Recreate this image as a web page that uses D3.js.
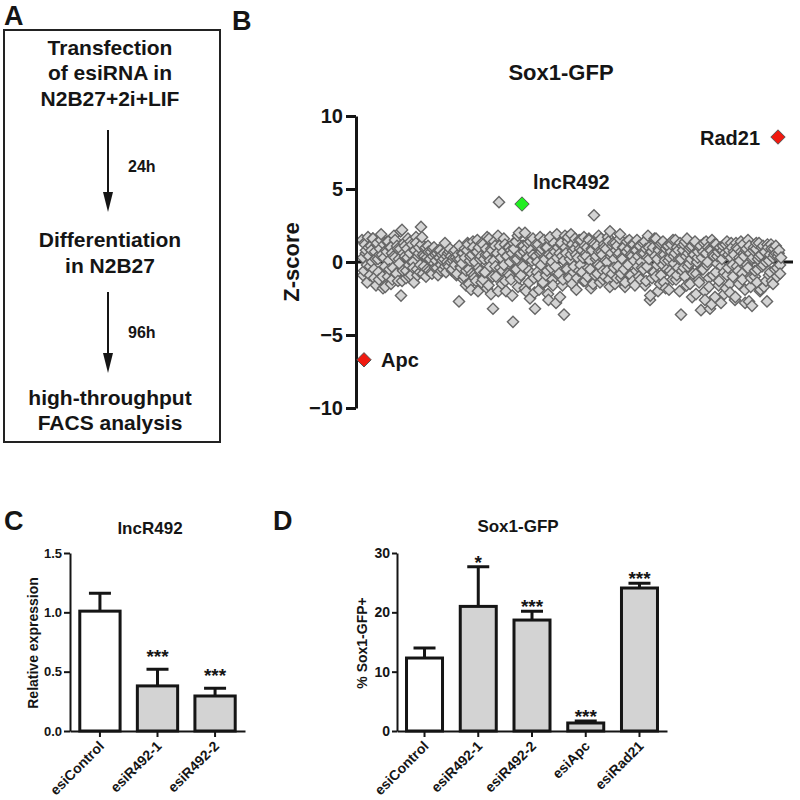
<!DOCTYPE html>
<html><head><meta charset="utf-8">
<script src="https://cdn.jsdelivr.net/npm/d3@7"></script>
<style>body{margin:0;background:#fff} svg{display:block;font-family:"Liberation Sans",Arial,sans-serif}</style>
</head><body>
<svg id="fig" width="800" height="800"></svg>
<script>
// ---------- DATA ----------
const flowSteps = [["Transfection","of esiRNA in","N2B27+2i+LIF"],["Differentiation","in N2B27"],["high-throughput","FACS analysis"]];
const flowTimes = ["24h","96h"];

const screenTitle = "Sox1-GFP";
const zTicks = [-10,-5,0,5,10];
// Z-scores of the screened esiRNAs, screen plate set 1
const screenZ = [
 1.5,0.3,-0.6,1.2,0.8,-0.2,1.7,0.4,-0.9,1.1,0.0,1.6,-0.5,0.7,-1.6,1.3,0.2,-1.2,0.9,1.5,
 0.5,-1.8,1.2,-0.3,0.8,1.4,-1.0,0.1,1.0,-1.5,0.6,-0.4,1.8,0.3,-0.8,1.1,-1.3,0.2,0.9,-2.3,
 2.2,-0.6,1.3,0.4,-1.1,0.9,1.6,-0.2,0.6,-0.9,1.2,0.0,-1.4,0.8,1.3,-0.5,0.4,1.0,-0.7,2.4,
 1.7,0.5,-0.3,0.9,-1.0,0.3,1.1,-0.6,0.2,0.7,-0.8,0.4,1.0,-0.4,0.1,0.6,-0.9,0.3,0.8,-0.2,
 0.5,-0.5,0.2,1.3,-0.7,0.0,0.6,-0.3,0.9,0.4,-0.6,0.1,0.7,-0.2,0.3,-0.8,0.5,-2.7,0.2,-0.4,
 -0.1,0.6,-1.0,0.3,-1.6,0.8,1.2,-0.5,0.1,-1.9,0.5,1.4,-0.9,0.0,-1.3,0.7,-2.0,1.0,-0.6,0.4,
 1.3,-1.2,0.2,-0.7,0.9,-1.8,0.5,1.6,-0.3,-2.2,0.8,-3.2,0.1,1.1,-1.0,0.6,1.8,4.1,-0.4,0.3,
 -1.5,0.7,-0.2,1.2,-2.0,0.4,-0.8,1.0,0.0,-1.2,0.6,-4.1,0.9,-0.5,1.4,0.2,-1.7,2.0,0.5,-0.9,
 1.1,-0.3,0.7,2.0,-2.0,0.3,1.3,-0.6,-2.5,0.8,0.1,1.6,-1.1,-3.2,0.4,-0.7,1.2,-1.9,0.6,-0.2,
 0.9,-1.4,1.5,0.2,-0.9,1.0,-2.2,0.5,1.7,-0.4,0.0,-1.6,1.3,0.7,-2.8,0.3,1.0,-0.8,-2.4,1.2,
 0.4,-1.2,-3.6,1.8,0.6,-0.5,1.4,-1.0,0.2,1.9,-1.5,0.8,-0.3,1.6,0.5,-1.1,1.2,-0.6,0.9,1.5,
 -0.7,0.3,1.7,-1.3,0.6,1.0,-0.4,1.5,0.1,-1.8,0.8,1.3,3.2,-0.9,0.4,1.1,-0.2,0.7,-1.4,1.6,
 0.5,-0.6,1.2,-1.0,0.9,0.0,1.7,-1.2,2.1,0.4,-0.8,1.3,0.2,-1.5,0.8,1.1,-0.3,0.6,1.9,-1.1,
 0.3,1.0,-0.5,-1.7,0.7,1.4,-0.2,0.9,-0.9,0.5,1.2,-1.3,0.1,0.8,-0.6,1.5,0.4,-1.0,1.1,0.0,
 -0.4,1.3,0.6,-1.6,0.9,-0.3,1.8,0.2,-2.6,0.7,-1.1,1.0,-0.7,0.4,1.6,-0.2,-2.0,0.8,1.2,-0.9,
 0.5,1.4,-1.4,0.1,0.9,-0.5,1.1,-1.9,0.3,0.7,-0.8,1.5,-0.1,0.6,-1.2,1.0,-0.4,0.2,1.3,-3.6,
 -0.6,0.8,1.2,-1.0,0.4,1.6,-0.3,0.9,-1.5,0.2,1.1,-0.8,0.5,1.4,-2.2,0.0,0.7,-1.2,1.0,-3.3,
 0.3,-0.5,1.3,-2.6,0.6,-0.2,1.0,-1.7,-3.2,0.8,1.5,-0.9,0.4,-2.4,1.2,-0.1,0.7,-1.3,0.9,-2.8,
 0.2,1.1,-0.7,0.6,-1.8,1.4,-0.4,0.8,-2.1,0.3,1.0,-1.0,0.5,-2.6,1.3,-0.3,0.9,-1.5,0.1,0.7,
 -0.8,1.2,0.4,-1.9,0.8,-0.2,1.5,-2.7,0.6,-1.1,-3.0,0.3,1.0,-0.6,0.9,-1.4,0.2,1.3,-2.0,0.5,
 -0.3,1.1,-1.7,0.7,0.0,-2.7,1.0,-0.9,0.5,1.2,-1.3,0.3,0.9,-0.5,0.6,-1.0,0.4,0.8,-0.2,0.3
];
// Z-scores, screen plate set 2
const screenZ2 = [
 -0.9,1.3,0.6,-1.4,1.0,-0.3,0.8,1.6,-1.1,0.2,1.2,-0.7,0.5,1.9,-1.0,0.3,-1.7,0.7,1.4,-0.5,
 1.0,-1.2,0.4,1.5,-0.8,0.9,-0.1,2.1,-1.3,0.6,1.1,-0.6,0.3,-1.0,1.4,0.0,-0.4,0.8,1.7,-0.9,
 0.6,-0.2,1.2,-0.8,0.4,1.0,-0.5,0.7,0.2,-0.7,0.9,-0.1,0.5,-0.4,0.8,0.3,-0.6,0.1,0.6,-0.3,
 0.4,-0.2,0.7,0.0,-0.5,0.3,0.8,-0.9,0.2,1.1,-0.3,0.6,-1.2,0.9,-0.6,1.3,-1.5,0.4,-0.8,1.0,
 -1.1,0.7,1.5,-0.4,0.2,-1.4,1.2,-0.7,0.5,1.7,-1.6,0.1,0.9,-1.0,1.4,-0.3,0.6,-2.0,1.1,0.3,
 -0.6,1.6,-1.3,0.4,1.0,-0.9,0.8,-2.3,1.3,0.2,-0.5,1.8,-1.1,0.6,-0.2,1.1,-1.8,0.9,0.3,-1.4,
 1.4,-0.8,0.5,-2.1,1.2,0.0,-1.0,1.7,0.7,-1.5,0.3,1.0,-0.6,-2.6,1.5,0.4,-1.2,0.8,-0.3,1.9,
 -0.9,0.6,1.3,-1.6,0.1,1.0,-0.4,1.7,-1.1,0.5,1.2,-0.7,0.9,-1.9,0.3,1.5,-0.2,0.8,-1.3,1.1,
 0.4,-1.0,1.6,-0.5,0.9,-1.5,1.2,0.2,-0.8,1.8,-0.3,0.7,-1.2,1.0,0.1,-0.6,1.4,-1.7,0.6,1.1,
 -0.4,1.3,-1.1,0.5,1.6,-0.8,0.2,1.0,-1.4,0.7,-0.1,1.5,-0.9,0.4,1.2,-1.6,0.8,-0.3,1.1,-1.2,
 0.6,-0.5,1.4,-1.3,0.3,1.0,-2.3,0.7,-0.7,1.6,-1.0,0.2,0.9,-1.5,1.3,-0.2,0.5,-1.8,1.1,0.1,
 -0.6,1.2,-1.2,0.4,1.5,-0.9,0.8,-2.0,0.2,1.1,-0.4,1.4,-1.6,0.6,-0.1,1.0,-2.4,0.5,1.3,-0.8,
 0.3,-1.4,1.1,-0.5,0.7,-2.0,1.4,0.0,-1.1,0.9,-2.9,0.5,1.2,-0.7,0.4,-1.6,1.0,-0.3,0.8,-2.2,
 1.2,-0.9,0.5,-1.5,1.3,-0.2,0.7,-2.4,1.0,-0.6,0.3,1.4,-1.2,0.6,-2.8,0.9,-0.4,1.1,-1.7,0.2,
 0.8,-1.0,1.3,-0.5,0.4,-1.9,1.0,-0.2,0.7,-1.3,1.2,0.1,-0.7,0.9,-1.5,0.5,1.1,-0.4,0.6,-0.8
];
const hitGenes = ["Apc","lncR492","Rad21"];
const hitRanks = [2,160,416];   // position on the screen-order axis of set 1
const hitZ = [-6.7,3.97,8.56];
const hitColors = ["#f01a10","#22ee22","#f01a10"];

const exprTitle = "lncR492";
const exprCats = ["esiControl","esiR492-1","esiR492-2"];
const exprMean = [1.01,0.38,0.295];
const exprUpper = [1.16,0.52,0.36];
const exprSig = ["","***","***"];
const exprTicks = [0,0.5,1.0,1.5];

const gfpTitle = "Sox1-GFP";
const gfpCats = ["esiControl","esiR492-1","esiR492-2","esiApc","esiRad21"];
const gfpMean = [12.3,21.0,18.7,1.35,24.1];
const gfpUpper = [14.0,27.7,20.2,1.7,24.9];
const gfpSig = ["","*","***","***","***"];
const gfpTicks = [0,10,20,30];

// ---------- DRAW ----------
const ink = "#151515";
const svg = d3.select("#fig");

function panelLetter(t, x, y){
  svg.append("text").attr("x",x).attr("y",y).attr("font-size",27).attr("font-weight","bold")
    .attr("fill",ink).text(t);
}

// Panel A
panelLetter("A",4,25);
const gA = svg.append("g");
gA.append("rect").attr("x",4).attr("y",30).attr("width",216).attr("height",412)
  .attr("fill","none").attr("stroke","#222").attr("stroke-width",2);
const stepBaselines = [[55,80,106],[247,273],[405,430]];
flowSteps.forEach((lines,i)=>{
  lines.forEach((ln,j)=>{
    gA.append("text").attr("x",110).attr("y",stepBaselines[i][j]).attr("text-anchor","middle")
      .attr("font-size",21).attr("font-weight","bold").attr("fill",ink).text(ln);
  });
});
const arrows = [[130,212,172],[292,373,338]];
flowTimes.forEach((t,i)=>{
  const [a,b,ty] = arrows[i];
  gA.append("line").attr("x1",108).attr("x2",108).attr("y1",a).attr("y2",b-14)
    .attr("stroke",ink).attr("stroke-width",2);
  gA.append("path").attr("d",`M103,${b-20}L113,${b-20}L108,${b}Z`).attr("fill",ink);
  gA.append("text").attr("x",128).attr("y",ty).attr("font-size",16).attr("font-weight","bold")
    .attr("fill",ink).text(t);
});

// Panel B
panelLetter("B",232,30);
const gB = svg.append("g");
const xB = d3.scaleLinear().domain([0,screenZ.length-1]).range([362,781]);
const xB2 = d3.scaleLinear().domain([0,screenZ2.length-1]).range([363,780]);
const yB = d3.scaleLinear().domain([-10,10]).range([408,116]);
gB.append("text").attr("x",561).attr("y",80).attr("text-anchor","middle").attr("font-size",22)
  .attr("font-weight","bold").attr("fill",ink).text(screenTitle);
gB.append("text").attr("transform",`translate(299,262) rotate(-90)`).attr("text-anchor","middle")
  .attr("font-size",22).attr("font-weight","bold").attr("fill",ink).text("Z-score");
gB.append("line").attr("x1",356).attr("x2",793).attr("y1",yB(0)).attr("y2",yB(0))
  .attr("stroke",ink).attr("stroke-width",3);
const diamond = r => `M0,${-r}L${r},0L0,${r}L${-r},0Z`;
const pts = screenZ.map((z,i)=>({x:xB(i), z})).concat(screenZ2.map((z,i)=>({x:xB2(i), z})))
  .sort((a,b)=>a.x-b.x);
gB.append("g").selectAll("path").data(pts).join("path")
  .attr("d",diamond(5.6))
  .attr("transform",d=>`translate(${d.x},${yB(d.z)})`)
  .attr("fill","#d4d4d4").attr("stroke","#666").attr("stroke-width",1.4);
const axB = d3.axisLeft(yB).tickValues(zTicks).tickSize(10).tickSizeOuter(0).tickPadding(3);
const gAxB = gB.append("g").attr("transform","translate(356,0)").call(axB);
gAxB.select(".domain").attr("stroke",ink).attr("stroke-width",3);
gAxB.selectAll(".tick line").attr("stroke",ink).attr("stroke-width",3);
gAxB.selectAll(".tick text").attr("font-size",20).attr("font-weight","bold").attr("fill",ink)
  .attr("font-family","Liberation Sans, Arial, sans-serif");
const hitData = hitGenes.map((g,i)=>({g, r:hitRanks[i], z:hitZ[i], c:hitColors[i]}));
gB.append("g").selectAll("path").data(hitData).join("path")
  .attr("d",diamond(7.2))
  .attr("transform",d=>`translate(${xB(d.r)},${yB(d.z)})`)
  .attr("fill",d=>d.c).attr("stroke","#555").attr("stroke-width",1);
const labelPos = {Apc:{dx:17,dy:7,anchor:"start"}, lncR492:{dx:11,dy:-15,anchor:"start"}, Rad21:{dx:-18,dy:8,anchor:"end"}};
gB.append("g").selectAll("text").data(hitData).join("text")
  .attr("x",d=>xB(d.r)+labelPos[d.g].dx).attr("y",d=>yB(d.z)+labelPos[d.g].dy)
  .attr("text-anchor",d=>labelPos[d.g].anchor)
  .attr("font-size",20).attr("font-weight","bold").attr("fill",ink).text(d=>d.g);

// Bar panels
function barPanel(o){
  const g = svg.append("g");
  const x = d3.scaleBand().domain(o.cats).range([o.x0,o.x1]).paddingInner(o.pi).paddingOuter(o.po);
  const y = d3.scaleLinear().domain([0,o.max]).range([731,553]);
  g.append("text").attr("x",o.titleX).attr("y",o.titleY).attr("text-anchor","middle")
    .attr("font-size",17).attr("font-weight","bold").attr("fill",ink).text(o.title);
  g.append("text").attr("transform",`translate(${o.ylabX},643) rotate(-90)`).attr("text-anchor","middle")
    .attr("font-size",14).attr("font-weight","bold").attr("fill",ink).text(o.ylab);
  const data = o.cats.map((c,i)=>({c, m:o.mean[i], u:o.upper[i], s:o.sig[i], i}));
  const cw = 11;
  g.append("g").selectAll("path").data(data).join("path")
    .attr("d",d=>{const cx=x(d.c)+x.bandwidth()/2; return `M${cx},${y(d.m)}V${y(d.u)}M${cx-cw},${y(d.u)}H${cx+cw}`;})
    .attr("stroke",ink).attr("stroke-width",3).attr("fill","none");
  g.append("g").selectAll("rect").data(data).join("rect")
    .attr("x",d=>x(d.c)).attr("width",x.bandwidth())
    .attr("y",d=>y(d.m)).attr("height",d=>y(0)-y(d.m))
    .attr("fill",d=>d.i===0?"#fff":"#d3d3d3").attr("stroke",ink).attr("stroke-width",3);
  g.append("g").selectAll("text").data(data).join("text")
    .attr("x",d=>x(d.c)+x.bandwidth()/2).attr("y",d=>y(d.u)+o.starOff)
    .attr("text-anchor","middle").attr("font-size",19).attr("font-weight","bold").attr("fill",ink)
    .text(d=>d.s);
  const ay = d3.axisLeft(y).tickValues(o.ticks).tickFormat(o.fmt).tickSize(o.tick).tickSizeOuter(0).tickPadding(2);
  const gy = g.append("g").attr("transform",`translate(${o.x0},0)`).call(ay);
  gy.select(".domain").attr("stroke",ink).attr("stroke-width",2);
  gy.selectAll(".tick line").attr("stroke",ink).attr("stroke-width",2);
  gy.selectAll(".tick text").attr("font-size",o.tickFont).attr("font-weight","bold").attr("fill",ink)
    .attr("font-family","Liberation Sans, Arial, sans-serif");
  const ax = d3.axisBottom(x).tickSize(6).tickSizeOuter(0).tickFormat("");
  const gx = g.append("g").attr("transform","translate(0,731)").call(ax);
  gx.select(".domain").attr("stroke",ink).attr("stroke-width",2);
  gx.selectAll(".tick line").attr("stroke",ink).attr("stroke-width",2);
  g.append("g").selectAll("text").data(o.cats).join("text")
    .attr("transform",d=>{const cx=x(d)+x.bandwidth()/2+5; return `translate(${cx},747) rotate(-45)`;})
    .attr("text-anchor","end").attr("font-size",14).attr("font-weight","bold").attr("fill",ink)
    .text(d=>d);
}

panelLetter("C",4,530);
barPanel({cats:exprCats, mean:exprMean, upper:exprUpper, sig:exprSig, ticks:exprTicks, max:1.5,
  fmt:d3.format(".1f"), x0:70, x1:245, pi:0.3, po:0.17, title:exprTitle, titleX:150, titleY:534,
  ylab:"Relative expression", ylabX:38, starOff:-6, tick:6, tickFont:13});

panelLetter("D",273,530);
barPanel({cats:gfpCats, mean:gfpMean, upper:gfpUpper, sig:gfpSig, ticks:gfpTicks, max:30,
  fmt:d3.format("d"), x0:397, x1:667, pi:0.33, po:0.177, title:gfpTitle, titleX:518, titleY:532,
  ylab:"% Sox1-GFP+", ylabX:367, starOff:2, tick:5, tickFont:14});
</script>
</body></html>
